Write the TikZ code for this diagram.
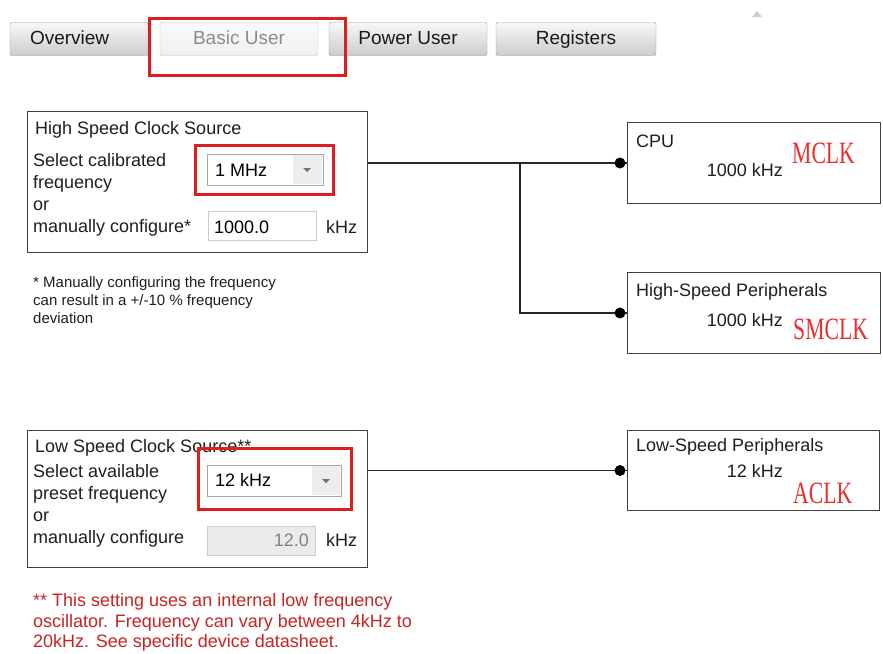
\documentclass[tikz,border=0pt]{standalone}
\usepackage{fontspec}
\setmainfont{Liberation Sans}
\newfontfamily\clkfont[FakeStretch=0.7]{Liberation Serif}
\definecolor{txtgray}{RGB}{30,30,30}
\definecolor{clkred}{RGB}{235,45,45}
\definecolor{boxred}{RGB}{225,30,30}
\definecolor{notered}{RGB}{200,35,35}
\definecolor{tabline}{RGB}{150,150,150}

\begin{document}
\begin{tikzpicture}[x=1pt,y=-1pt,
    tab/.style={draw=tabline, rounded corners=2pt, top color=black!3, bottom color=black!20,
        minimum height=33, inner sep=0pt, text height=14, text depth=4,
        font=\fontsize{19}{22}\selectfont, text=black!90},
    seltab/.style={tab, draw=black!25, top color=black!2, bottom color=black!6, text=black!45},
    panel/.style={draw=black!75, line width=1pt, anchor=north west, inner sep=0pt},
    txt/.style={anchor=west, inner sep=0pt, text=txtgray, font=\fontsize{18}{22}\selectfont},
    note/.style={txt, align=left, font=\fontsize{15}{18}\selectfont},
    combo/.style={draw=black!35, fill=white, anchor=north west, inner sep=0pt},
    hilite/.style={draw=boxred, line width=3pt},
    clk/.style={anchor=west, inner sep=0pt, text=clkred, font=\clkfont\fontsize{31}{31}\selectfont},
    jdot/.style={circle, fill=black, inner sep=0pt, minimum size=11pt},
    wire/.style={draw=black!85, line width=1.2pt}
]
    \useasboundingbox (0,0) rectangle (883,653);

    % Draw the tabs
    \node[tab, minimum width=138, text width=98, align=left] (ovtab) at (79,39) {Overview};
    \foreach \nm/\cx/\tw/\lbl in {pwtab/408/158/Power User, rgtab/576/160/Registers}
        \node[tab, minimum width=\tw] (\nm) at (\cx,39) {\lbl};
    \node[seltab, minimum width=158] (bstab) at (239,39) {Basic User};
    \draw[hilite] (149,18) rectangle (345,75);
    \fill[black!20] (752,17) -- (762,17) -- (757,11) -- cycle;

    % High speed clock source
    \node[panel, minimum width=340, minimum height=141] (hs) at (27,111) {};
    \node[txt] (hstitle) at (35,130) {High Speed Clock Source};
    \node[txt, align=left] (hssel) at (33,195) {Select calibrated\\frequency\\or\\manually configure*};
    \node[combo, minimum width=116, minimum height=31] (hsfreq) at (207,154) {};
    \fill[black!7] (293,155) rectangle (322,184);
    \fill[black!55] (303,168) -- (311,168) -- (307,172) -- cycle;
    \node[txt, text=black] (hsfreqtxt) at (215,170) {1 MHz};
    \draw[hilite] (195,145) rectangle (333,194);
    \node[combo, draw=black!20, minimum width=108, minimum height=29] (hsman) at (208,211) {};
    \node[txt, text=black] (hsmantxt) at (214,227) {1000.0};
    \node[txt] (hsunit) at (326,227) {kHz};
    \node[note] (hsnote) at (33,300) {* Manually configuring the frequency\\can result in a +/-10 \% frequency\\deviation};

    % Low speed clock source
    \node[panel, minimum width=340, minimum height=137] (ls) at (27,430) {};
    \node[txt] (lstitle) at (35,448) {Low Speed Clock Source**};
    \node[txt, align=left] (lssel) at (33,506) {Select available\\preset frequency\\or\\manually configure};
    \node[combo, minimum width=134, minimum height=31] (lsfreq) at (207,465) {};
    \fill[black!7] (312,466) rectangle (340,495);
    \fill[black!55] (322,479) -- (330,479) -- (326,483) -- cycle;
    \node[txt, text=black] (lsfreqtxt) at (215,480) {12 kHz};
    \draw[hilite] (198,448) rectangle (351,509);
    \node[combo, draw=black!20, fill=black!8, minimum width=108, minimum height=29] (lsman) at (207,526) {};
    \node[txt, anchor=east, text=black!50] (lsmantxt) at (309,540) {12.0};
    \node[txt] (lsunit) at (326,540) {kHz};
    \node[note, text=notered, font=\fontsize{18}{20.5}\selectfont] (lsnote) at (33,622.5)
        {** This setting uses an internal low frequency\\oscillator. Frequency can vary between 4kHz to\\20kHz. See specific device datasheet.};

    % Clock targets
    \node[panel, minimum width=253, minimum height=81] (cpu) at (627,122) {};
    \node[txt] (cputitle) at (636,141) {CPU};
    \node[txt, anchor=east] (cpufreq) at (783,170) {1000 kHz};
    \node[clk] (mclk) at (792,153) {MCLK};

    \node[panel, minimum width=253, minimum height=81] (hsp) at (627,272) {};
    \node[txt] (hsptitle) at (636,292) {High-Speed Peripherals};
    \node[txt, anchor=east] (hspfreq) at (783,320) {1000 kHz};
    \node[clk] (smclk) at (793,329) {SMCLK};

    \node[panel, minimum width=252, minimum height=80] (lsp) at (627,430) {};
    \node[txt] (lsptitle) at (636,447) {Low-Speed Peripherals};
    \node[txt, anchor=east] (lspfreq) at (783,471) {12 kHz};
    \node[clk] (aclk) at (793,493) {ACLK};

    % Connect sources to targets
    \coordinate (jn) at (520,163);
    \draw[wire] (hs.east |- cpu.west) -- (cpu.west);
    \draw[wire] (jn) |- (hsp.west);
    \draw[wire] (ls.east |- lsp.west) -- (lsp.west);
    \node[jdot] (cpudot) at ([xshift=-7pt]cpu.west) {};
    \node[jdot] (hspdot) at ([xshift=-7pt]hsp.west) {};
    \node[jdot] (lspdot) at ([xshift=-7pt]lsp.west) {};
\end{tikzpicture}
\end{document}
